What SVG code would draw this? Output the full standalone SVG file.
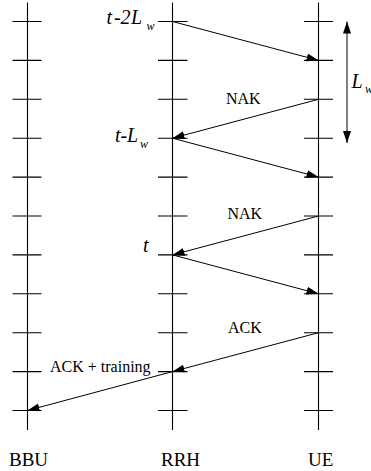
<svg xmlns="http://www.w3.org/2000/svg" width="371" height="471" viewBox="0 0 371 471">
<style>
.ax{stroke:#000;stroke-width:1.1;fill:none}
.tk{stroke:#000;stroke-width:1.1}
.ar{stroke:#000;stroke-width:1;fill:none;marker-end:url(#ah)}
.lb{font-family:"Liberation Serif","Times New Roman",serif;fill:#000}
.it{font-family:"Liberation Serif","Times New Roman",serif;font-style:italic;fill:#000}
</style>
<defs>
<marker id="ah" markerUnits="userSpaceOnUse" markerWidth="13" markerHeight="9" refX="12" refY="4" orient="auto">
<path d="M0,0 L12,4 L0,8 z" fill="#000"/>
</marker>
<marker id="ahs" markerUnits="userSpaceOnUse" markerWidth="13" markerHeight="9" refX="12" refY="4" orient="auto-start-reverse">
<path d="M0,0 L12,4 L0,8 z" fill="#000"/>
</marker>
</defs>
<g id="BBU">
<line class="ax" x1="27.5" y1="2.5" x2="27.5" y2="430"/>
<path class="tk" d="M12.5,21.5H41.5M12.5,60.4H41.5M12.5,99.3H41.5M12.5,138.2H41.5M12.5,177.1H41.5M12.5,216H41.5M12.5,254.9H41.5M12.5,293.8H41.5M12.5,332.7H41.5M12.5,371.6H41.5M12.5,410.5H41.5"/>
<text class="lb" x="9" y="465.7" font-size="19">BBU</text>
</g>
<g id="RRH">
<line class="ax" x1="172.5" y1="2.5" x2="172.5" y2="430"/>
<path class="tk" d="M158,21.5H187.5M158,60.4H187.5M158,99.3H187.5M158,138.2H187.5M158,177.1H187.5M158,216H187.5M158,254.9H187.5M158,293.8H187.5M158,332.7H187.5M158,371.6H187.5M158,410.5H187.5"/>
<text class="lb" x="161" y="465.7" font-size="19">RRH</text>
</g>
<g id="UE">
<line class="ax" x1="318.5" y1="2.5" x2="318.5" y2="430"/>
<path class="tk" d="M304,21.5H333M304,60.4H333M304,99.3H333M304,138.2H333M304,177.1H333M304,216H333M304,254.9H333M304,293.8H333M304,332.7H333M304,371.6H333M304,410.5H333"/>
<text class="lb" x="308" y="465.7" font-size="19">UE</text>
</g>
<g id="time-labels">
<text class="it" font-size="20" y="24"><tspan x="106.5">t</tspan><tspan x="114">-</tspan><tspan x="120.5">2</tspan><tspan x="131">L</tspan></text>
<text class="it" font-size="12" x="146.5" y="30">w</text>
<text class="it" font-size="20" y="142.3"><tspan x="115">t</tspan><tspan x="120.5">-</tspan><tspan x="127">L</tspan></text>
<text class="it" font-size="12" x="140" y="148.3">w</text>
<text class="it" font-size="20" x="143" y="252">t</text>
</g>
<g id="window">
<line x1="347" y1="21.5" x2="347" y2="143" stroke="#000" stroke-width="1" marker-start="url(#ahs)" marker-end="url(#ah)"/>
<text class="it" font-size="20" x="351.5" y="87.5">L</text>
<text class="it" font-size="12" x="365" y="93">w</text>
</g>
<g id="connectors">
<line class="ar" x1="172.5" y1="21.5" x2="318.5" y2="60.4"/>
<line class="ar" x1="318.5" y1="99.3" x2="172.5" y2="138.2"/>
<line class="ar" x1="172.5" y1="138.2" x2="318.5" y2="177.1"/>
<line class="ar" x1="318.5" y1="216" x2="172.5" y2="254.9"/>
<line class="ar" x1="172.5" y1="254.9" x2="318.5" y2="293.8"/>
<line class="ar" x1="318.5" y1="332.7" x2="172.5" y2="371.6"/>
<line class="ar" x1="172.5" y1="371.6" x2="27.5" y2="410.5"/>
<text class="lb" font-size="16" x="226" y="104.3">NAK</text>
<text class="lb" font-size="16" x="227.5" y="219.3">NAK</text>
<text class="lb" font-size="16" x="228" y="332.7">ACK</text>
<text class="lb" font-size="16" x="50" y="371.7">ACK + training</text>
</g>
</svg>
